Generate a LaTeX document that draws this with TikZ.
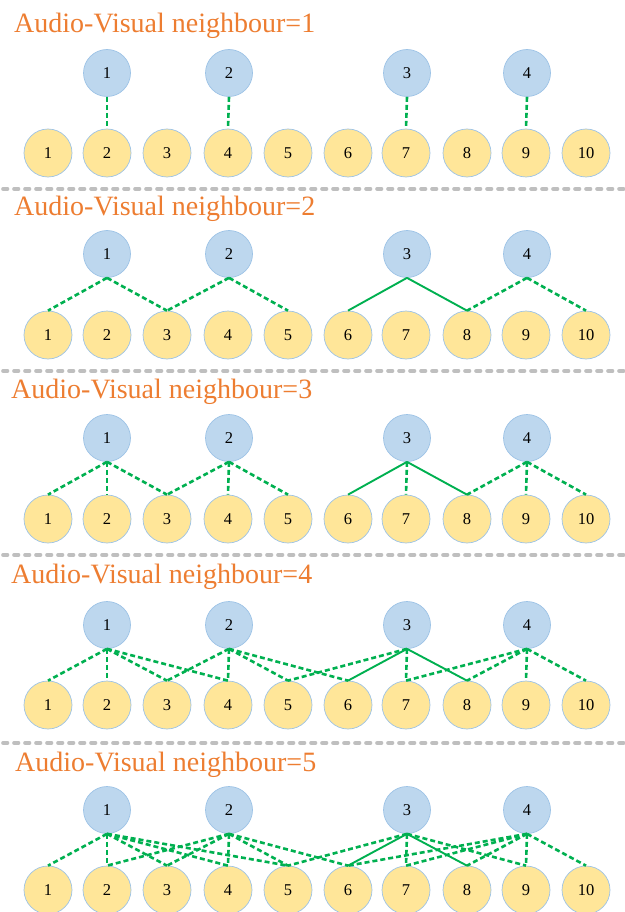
\documentclass[tikz,border=0pt]{standalone}
\usepackage{fontspec}
\setmainfont{Liberation Serif}
\definecolor{avblue}{HTML}{BDD7EE}
\definecolor{avedge}{HTML}{9DC3E6}
\definecolor{avyellow}{HTML}{FFE699}
\definecolor{avgreen}{HTML}{00B050}
\definecolor{avorange}{HTML}{ED7D31}
\definecolor{avgray}{HTML}{BFBFBF}
\tikzset{
  audio/.style={circle, fill=avblue, draw=avedge, line width=0.7pt,
    minimum size=47pt, inner sep=0pt, font=\fontsize{16.5}{16.5}\selectfont},
  video/.style={circle, fill=avyellow, draw=avedge, line width=0.7pt,
    minimum size=48pt, inner sep=0pt, font=\fontsize{16.5}{16.5}\selectfont},
  link/.style={avgreen, line width=2.6pt, dash pattern=on 5pt off 3pt},
  solidlink/.style={avgreen, line width=1.9pt},
  separator/.style={avgray, line width=3.6pt, line cap=round,
    dash pattern=on 4.5pt off 6.5pt},
  paneltitle/.style={text=avorange, anchor=base west, inner sep=0pt,
    font=\fontsize{28}{30}\selectfont}
}
\begin{document}
\begin{tikzpicture}[x=1pt, y=-1pt]
  \useasboundingbox (0,0) rectangle (624,912);
  % panels: number / title x / title baseline / audio row y / video row y
  \foreach \p/\tx/\ty/\ay/\vy in {1/14/33/73/153, 2/14/215/254/335,
      3/11/398/438/519, 4/11/583/625/705, 5/15/771/810/890}{
    \node[paneltitle] (t\p) at (\tx,\ty) {Audio-Visual neighbour=\p};
    \foreach \i/\x in {1/107, 2/229, 3/407, 4/527}
      \node[audio] (a\p-\i) at (\x,\ay) {\i};
    \foreach \i/\x in {1/48, 2/107, 3/167, 4/228, 5/288, 6/348, 7/406,
        8/467, 9/526, 10/586}
      \node[video] (v\p-\i) at (\x,\vy) {\i};
  }
  % dashed separators between panels
  \foreach \s/\y in {1/189, 2/371, 3/555, 4/743}{
    \coordinate (sl\s) at (3,\y);
    \coordinate (sr\s) at (624,\y);
    \draw[separator] (sl\s) -- (sr\s);
  }
  % neighbour = 1
  \foreach \a/\v in {1/2, 2/4, 3/7, 4/9}
    \draw[link] (a1-\a.south) -- (v1-\v.north);
  % neighbour = 2
  \foreach \a/\v in {1/1, 1/3, 2/3, 2/5, 4/8, 4/10}
    \draw[link] (a2-\a.south) -- (v2-\v.north);
  \foreach \a/\v in {3/6, 3/8}
    \draw[solidlink] (a2-\a.south) -- (v2-\v.north);
  % neighbour = 3
  \foreach \a/\v in {1/1, 1/2, 1/3, 2/3, 2/4, 2/5, 3/7, 4/8, 4/9, 4/10}
    \draw[link] (a3-\a.south) -- (v3-\v.north);
  \foreach \a/\v in {3/6, 3/8}
    \draw[solidlink] (a3-\a.south) -- (v3-\v.north);
  % neighbour = 4
  \foreach \a/\v in {1/1, 1/2, 1/3, 1/4, 2/3, 2/4, 2/5, 2/6, 3/5, 3/7,
      4/7, 4/8, 4/9, 4/10}
    \draw[link] (a4-\a.south) -- (v4-\v.north);
  \foreach \a/\v in {3/6, 3/8}
    \draw[solidlink] (a4-\a.south) -- (v4-\v.north);
  % neighbour = 5
  \foreach \a/\v in {1/1, 1/2, 1/3, 1/4, 1/5, 2/2, 2/3, 2/4, 2/5, 2/6,
      3/5, 3/7, 3/9, 4/6, 4/7, 4/8, 4/9, 4/10}
    \draw[link] (a5-\a.south) -- (v5-\v.north);
  \foreach \a/\v in {3/6, 3/8}
    \draw[solidlink] (a5-\a.south) -- (v5-\v.north);
\end{tikzpicture}
\end{document}
